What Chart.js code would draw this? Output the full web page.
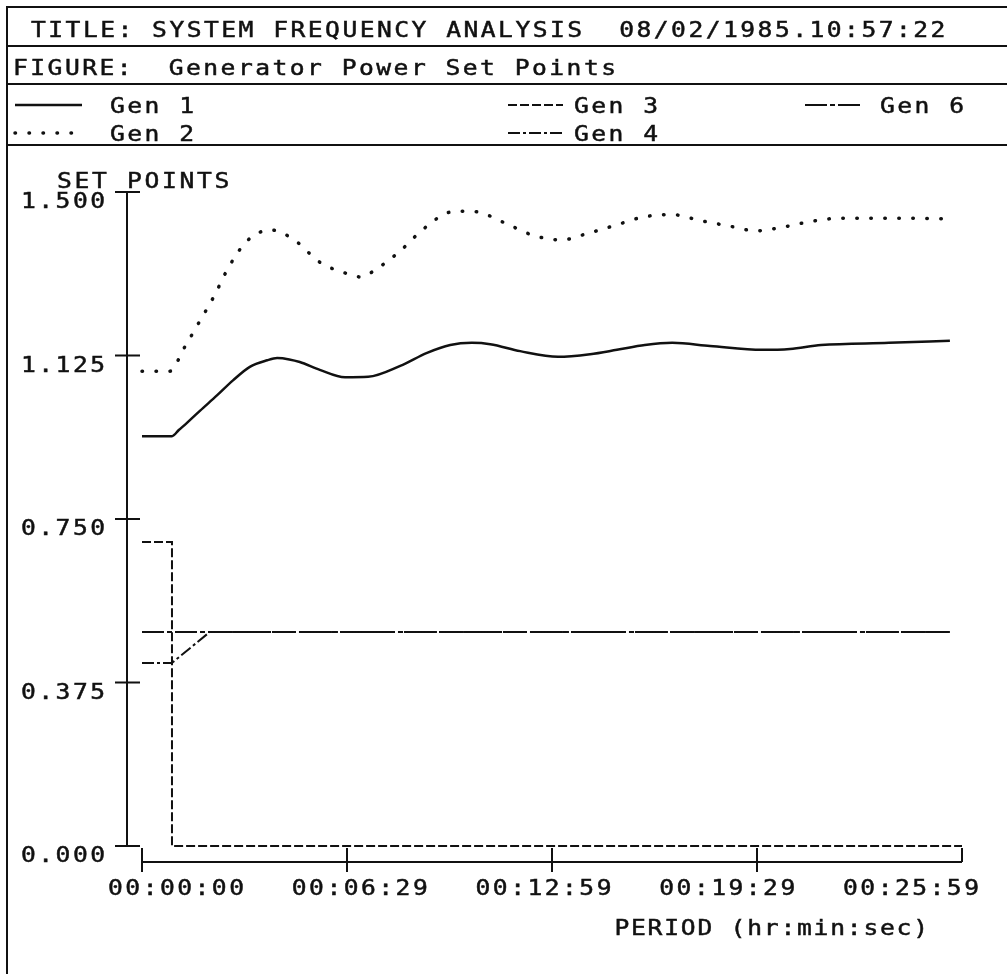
<!DOCTYPE html>
<html>
<head>
<meta charset="utf-8">
<script src="https://cdn.jsdelivr.net/npm/chart.js@4.4.1/dist/chart.umd.min.js"></script>
<style>
  html, body { margin: 0; padding: 0; background: #fff; }
  canvas { display: block; }
</style>
</head>
<body>
<canvas id="plot" width="1007" height="974"></canvas>
<script>
// Time axis is in seconds from the start of the run
const xTickValues = [0, 389.75, 779.5, 1169.25, 1559];
const xTickLabels = ['00:00:00', '00:06:29', '00:12:59', '00:19:29', '00:25:59'];
const yTickValues = [0, 0.375, 0.75, 1.125, 1.5];
const yTickLabels = ['0.000', '0.375', '0.750', '1.125', '1.500'];

const seriesNames = ['Gen 1', 'Gen 2', 'Gen 3', 'Gen 4', 'Gen 6'];

const gen1Time  = [0, 57, 70, 86, 110, 143, 173, 205, 238, 257, 280, 300, 338, 386, 430, 491, 542, 586, 627, 662, 719, 791, 852, 903, 956, 1008, 1080, 1179, 1232, 1291, 1420, 1536];
const gen1Value = [0.940, 0.940, 0.954, 0.971, 0.998, 1.034, 1.068, 1.099, 1.114, 1.119, 1.116, 1.110, 1.092, 1.075, 1.076, 1.101, 1.131, 1.149, 1.154, 1.151, 1.135, 1.122, 1.128, 1.138, 1.149, 1.154, 1.147, 1.138, 1.140, 1.149, 1.154, 1.159];

const gen2Time  = [0, 53, 80, 108, 137, 164, 196, 221, 245, 270, 295, 338, 392, 416, 443, 491, 535, 586, 612, 639, 690, 743, 797, 850, 901, 954, 1008, 1063, 1116, 1167, 1221, 1274, 1329, 1441, 1540];
const gen2Value = [1.089, 1.089, 1.142, 1.200, 1.261, 1.326, 1.383, 1.406, 1.413, 1.404, 1.385, 1.339, 1.312, 1.305, 1.321, 1.365, 1.415, 1.454, 1.456, 1.454, 1.429, 1.401, 1.390, 1.406, 1.424, 1.443, 1.448, 1.434, 1.422, 1.411, 1.420, 1.433, 1.440, 1.440, 1.438];

const gen3Time  = [0, 57, 57, 1559];
const gen3Value = [0.697, 0.697, 0, 0];

const gen4Time  = [0, 57, 129, 1536];
const gen4Value = [0.420, 0.420, 0.491, 0.491];

const gen6Time  = [0, 1536];
const gen6Value = [0.491, 0.491];

const pairs = (t, v) => t.map((x, i) => ({ x, y: v[i] }));

const INK = '#111';
const FONT = '22px "DejaVu Sans Mono", "Liberation Mono", monospace';
const PITCH = 17.3;   // plotter character pitch
const STRETCH = 1.12; // plotter letters are a little wider than the font's
const GLYPH = 13.2 * STRETCH;

// Fixed-pitch plotter lettering, one character per cell
function letter(ctx, str, x, baseline, align, pitch) {
  const p = pitch || PITCH;
  const w = (str.length - 1) * p + GLYPH;
  let x0 = x;
  if (align === 'right') x0 = x - w;
  else if (align === 'center') x0 = x - w / 2;
  ctx.save();
  ctx.textAlign = 'left';
  ctx.textBaseline = 'alphabetic';
  ctx.lineWidth = 0.5;
  ctx.strokeStyle = INK;
  for (let i = 0; i < str.length; i++) {
    if (str[i] === ' ') continue;
    ctx.save();
    ctx.translate(x0 + i * p, baseline);
    ctx.scale(STRETCH, 1);
    ctx.fillText(str[i], 0, 0);
    ctx.strokeText(str[i], 0, 0);
    ctx.restore();
  }
  ctx.restore();
}

// legend slots: column, row
const legendSlots = [[0, 0], [0, 1], [1, 0], [1, 1], [2, 0]];
const legendCols = [
  { sample: 15, len: 67, text: 110 },
  { sample: 508, len: 55, text: 574 },
  { sample: 805, len: 58, text: 880 }
];
const legendRows = [113, 141];

const plotterSheet = {
  id: 'plotterSheet',
  beforeDraw(chart) {
    const ctx = chart.ctx;
    ctx.save();
    ctx.fillStyle = '#fff';
    ctx.fillRect(0, 0, chart.width, chart.height);
    ctx.restore();
  },
  afterDraw(chart) {
    const ctx = chart.ctx;
    const xs = chart.scales.x, ys = chart.scales.y;
    const W = chart.width, H = chart.height;
    ctx.save();
    ctx.strokeStyle = INK;
    ctx.fillStyle = INK;
    ctx.lineWidth = 2;
    ctx.lineCap = 'butt';

    // header boxes
    ctx.beginPath();
    ctx.moveTo(7, H); ctx.lineTo(7, 7); ctx.lineTo(W, 7);
    [46, 84, 145].forEach(yy => { ctx.moveTo(7, yy); ctx.lineTo(W, yy); });
    ctx.stroke();

    ctx.font = FONT;
    letter(ctx, 'TITLE: SYSTEM FREQUENCY ANALYSIS  08/02/1985.10:57:22', 31, 37);
    letter(ctx, 'FIGURE:  Generator Power Set Points', 13, 75);

    // legend built from the datasets' own line styles
    chart.data.datasets.forEach((ds, i) => {
      const [c, r] = legendSlots[i];
      const col = legendCols[c];
      const base = legendRows[r];
      const ly = base - 8;
      ctx.save();
      ctx.lineWidth = ds.borderWidth;
      ctx.lineCap = ds.borderCapStyle || 'butt';
      ctx.setLineDash(ds.borderDash || []);
      ctx.beginPath();
      ctx.moveTo(col.sample, ly);
      ctx.lineTo(col.sample + col.len, ly);
      ctx.stroke();
      ctx.restore();
      letter(ctx, ds.label, col.text, base);
    });

    // value axis, set off to the left of the plotting area
    const axX = ys.right - 15;
    const top = ys.getPixelForValue(ys.max);
    const bot = ys.getPixelForValue(ys.min);
    ctx.beginPath();
    ctx.moveTo(axX, top); ctx.lineTo(axX, bot);
    ys.ticks.forEach(t => {
      const py = ys.getPixelForValue(t.value);
      ctx.moveTo(axX - 12, py); ctx.lineTo(axX + 13, py);
    });
    ctx.stroke();
    ys.ticks.forEach((t, i) => {
      const py = ys.getPixelForValue(t.value);
      letter(ctx, yTickLabels[i], axX - 22, py + 16, 'right');
    });
    letter(ctx, 'SET POINTS', 57, 188, 'left', 17.5);

    // time axis, set off below the plotting area
    const axY = xs.top + 16;
    const left = xs.getPixelForValue(xs.min);
    const right = xs.getPixelForValue(xs.max);
    ctx.beginPath();
    ctx.moveTo(left, axY); ctx.lineTo(right, axY);
    xs.ticks.forEach((t, i) => {
      const px = xs.getPixelForValue(t.value);
      ctx.moveTo(px, axY - 14); ctx.lineTo(px, i === xs.ticks.length - 1 ? axY : axY + 10);
    });
    ctx.stroke();
    // the plotter spreads its time labels a little tighter than the ticks
    const n = xs.ticks.length;
    const first = left + 34, last = right - 51;
    xs.ticks.forEach((t, i) => {
      const cx = first + (last - first) * i / (n - 1);
      letter(ctx, xTickLabels[i], cx, axY + 33, 'center');
    });
    letter(ctx, 'PERIOD (hr:min:sec)', right - 34, axY + 73, 'right', 16.6);

    ctx.restore();
  }
};

const common = { borderColor: INK, backgroundColor: INK, pointRadius: 0, fill: false, clip: 6 };

new Chart(document.getElementById('plot').getContext('2d'), {
  type: 'line',
  data: {
    datasets: [
      { ...common, label: seriesNames[0], data: pairs(gen1Time, gen1Value), borderWidth: 2.5, borderDash: [], cubicInterpolationMode: 'monotone' },
      { ...common, label: seriesNames[1], data: pairs(gen2Time, gen2Value), borderWidth: 3.5, borderDash: [0.5, 13.5], borderCapStyle: 'round', cubicInterpolationMode: 'monotone' },
      { ...common, label: seriesNames[2], data: pairs(gen3Time, gen3Value), borderWidth: 2, borderDash: [9, 3], tension: 0 },
      { ...common, label: seriesNames[3], data: pairs(gen4Time, gen4Value), borderWidth: 2, borderDash: [12, 3, 3, 3], tension: 0 },
      { ...common, label: seriesNames[4], data: pairs(gen6Time, gen6Value), borderWidth: 2, borderDash: [22, 3, 5, 3], tension: 0 }
    ]
  },
  options: {
    responsive: false,
    animation: false,
    devicePixelRatio: 1,
    layout: { padding: { top: 192, right: 45, bottom: 0, left: 0 } },
    plugins: { legend: { display: false }, tooltip: { enabled: false }, title: { display: false } },
    scales: {
      x: {
        type: 'linear', min: 0, max: 1559,
        afterBuildTicks: s => { s.ticks = xTickValues.map(v => ({ value: v })); },
        afterFit: s => { s.height = 128; },
        grid: { display: false }, border: { display: false }, ticks: { display: false }
      },
      y: {
        type: 'linear', min: 0, max: 1.5,
        afterBuildTicks: s => { s.ticks = yTickValues.map(v => ({ value: v })); },
        afterFit: s => { s.width = 142; },
        grid: { display: false }, border: { display: false }, ticks: { display: false }
      }
    }
  },
  plugins: [plotterSheet]
});
</script>
</body>
</html>
